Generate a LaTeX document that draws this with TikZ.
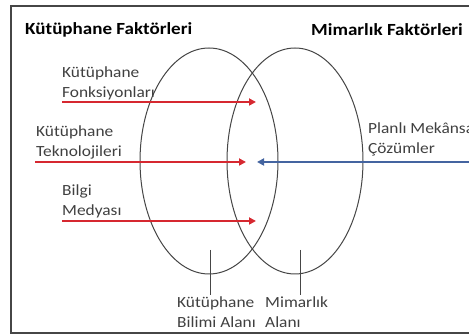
\documentclass[tikz,border=0pt]{standalone}
\usepackage{fontspec}
\setmainfont[FakeStretch=1.12]{Carlito}
\usetikzlibrary{arrows.meta}
\definecolor{arrowred}{RGB}{214,40,48}
\definecolor{arrowblue}{RGB}{68,100,160}
\definecolor{linegray}{RGB}{70,70,70}
\tikzset{
  lbl/.style = {inner sep=0pt, align=left, font=\fontsize{15.5}{19.5}\selectfont, text=black!75},
  title/.style = {inner sep=0pt, font=\fontsize{17}{20}\selectfont\bfseries},
  redarrow/.style = {arrowred, line width=2pt, -{Triangle[length=7pt,width=7pt]}},
  bluearrow/.style = {arrowblue, line width=2pt, -{Triangle[length=7pt,width=7pt]}}
}
\begin{document}
\begin{tikzpicture}[x=1pt, y=-1pt]
            \useasboundingbox (0,0) rectangle (469,336);
            \clip (0,0) rectangle (469,336);

            % frame
            \draw[linegray, line width=1.2pt] (11,6) rectangle (480,333);

            % titles
            \node[title, anchor=west] (libtitle) at (25,30) {Kütüphane Faktörleri};
            \node[title, anchor=east] (archtitle) at (463,30) {Mimarlık Faktörleri};

            % areas
            \draw[linegray, line width=1pt] (209,161) ellipse [x radius=69, y radius=113];
            \draw[linegray, line width=1pt] (295,161) ellipse [x radius=68, y radius=113];

            % factors
            \node[lbl, anchor=south west] (fonk) at (62,100) {Kütüphane\\Fonksiyonları};
            \node[lbl, anchor=south west] (tekno) at (36,159) {Kütüphane\\Teknolojileri};
            \node[lbl, anchor=south west] (medya) at (62,218) {Bilgi\\Medyası};
            \node[lbl, anchor=south west] (plan) at (368,156) {Planlı Mekânsal\\Çözümler};

            \coordinate (fonk-s) at (62,102);
            \coordinate (fonk-e) at (256,102);
            \coordinate (tekno-s) at (35,162);
            \coordinate (tekno-e) at (246,162);
            \coordinate (medya-s) at (62,221);
            \coordinate (medya-e) at (256,221);
            \coordinate (plan-s) at (472,162);
            \coordinate (plan-e) at (257,162);

            \draw[redarrow] (fonk-s) -- (fonk-e);
            \draw[redarrow] (tekno-s) -- (tekno-e);
            \draw[redarrow] (medya-s) -- (medya-e);
            \draw[bluearrow] (plan-s) -- (plan-e);

            % area labels
            \coordinate (libtick-t) at (210,250);
            \coordinate (libtick-b) at (210,295);
            \coordinate (archtick-t) at (300,250);
            \coordinate (archtick-b) at (300,295);
            \draw[linegray, line width=1pt] (libtick-t) -- (libtick-b);
            \draw[linegray, line width=1pt] (archtick-t) -- (archtick-b);

            \node[lbl, anchor=north west] (libarea) at (177,297) {Kütüphane\\Bilimi Alanı};
            \node[lbl, anchor=north west] (archarea) at (265,297) {Mimarlık\\Alanı};
        \end{tikzpicture}
\end{document}
